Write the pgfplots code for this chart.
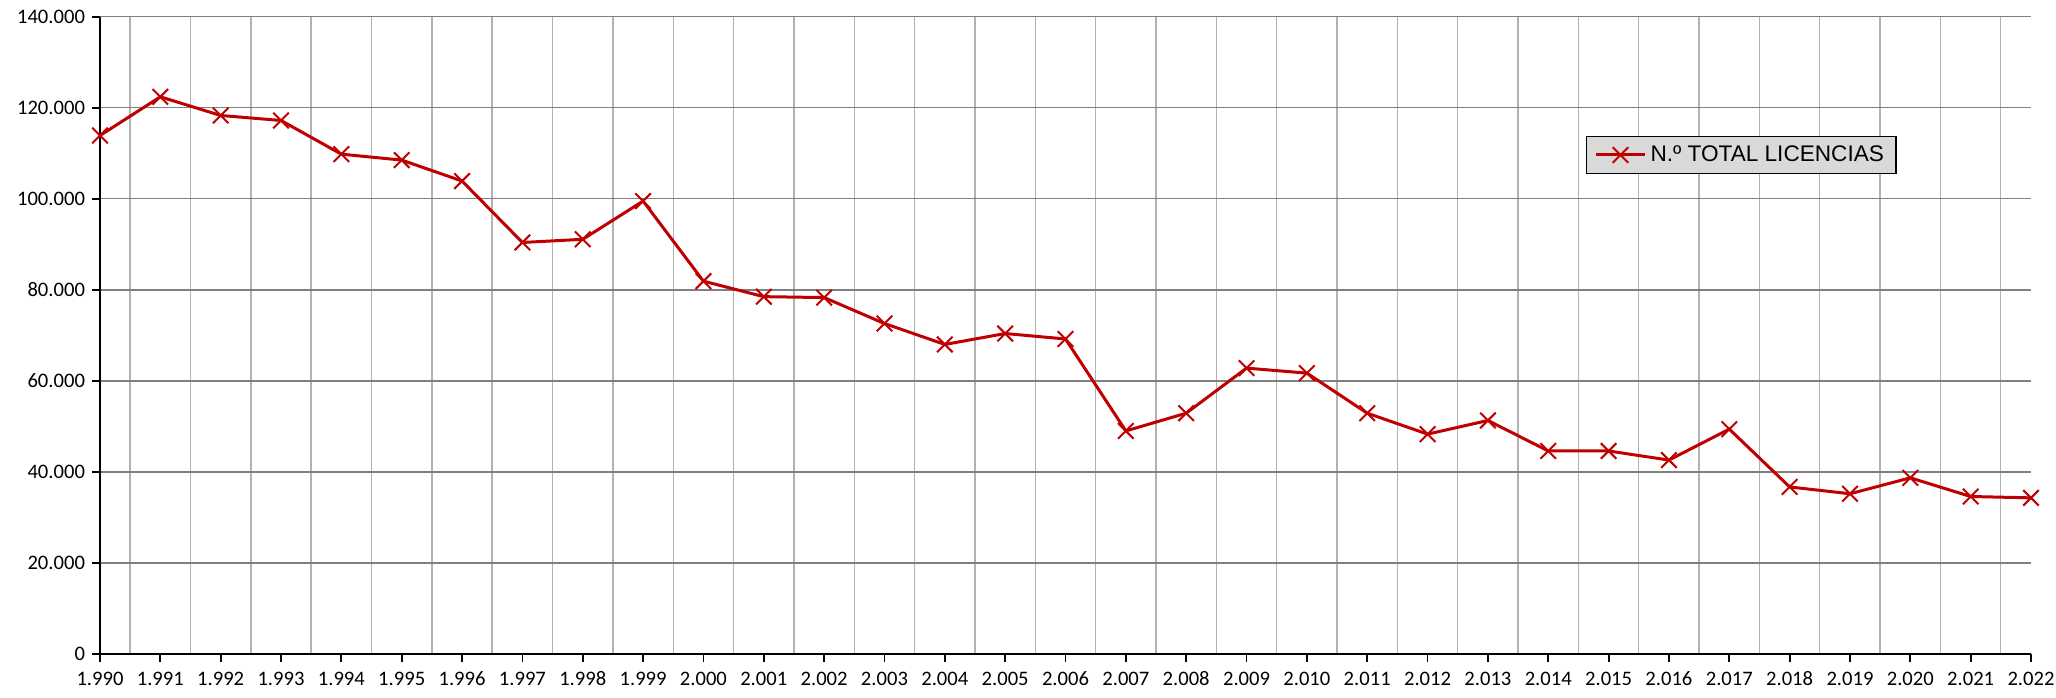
\documentclass[border=0pt]{standalone}
\usepackage{pgfplots}
\pgfplotsset{compat=1.18}
\usepackage{fontspec}
\setmainfont{Carlito}
\newfontfamily\legfont{Liberation Sans}
\definecolor{linered}{RGB}{192,0,0}
\begin{document}
\begin{tikzpicture}
\begin{axis}[
  at={(50pt,21.5pt)}, anchor=south west,
  width=965.5pt, height=318.65pt, scale only axis,
  xmin=1990, xmax=2022, ymin=0, ymax=140000,
  axis x line=bottom, axis y line=left,
  axis line style={-, black, line width=0.9pt},
  xtick={1990,1991,...,2022},
  ytick={0,20000,40000,60000,80000,100000,120000,140000},
  minor xtick={1990.5,1991.5,...,2021.5},
  ymajorgrids, xminorgrids,
  major grid style={color=black!50, line width=0.7pt},
  minor grid style={color=black!30, line width=0.7pt},
  tick align=outside,
  major tick length=4pt, minor tick length=0pt,
  tick style={black, line width=0.9pt},
  scaled x ticks=false, scaled y ticks=false,
  /pgf/number format/.cd, fixed, precision=0, 1000 sep={.}, assume math mode=true,
  /pgfplots/.cd,
  tick label style={font=\fontsize{10.3}{12}\selectfont},
  xticklabel style={anchor=north, text height=7.3pt, text depth=0pt, yshift=-1pt},
  legend style={at={(0.7695,0.8128)}, anchor=north west,
    fill=black!15, draw=black, line width=0.6pt,
    font=\legfont\fontsize{11.3}{13}\selectfont,
    inner xsep=4pt, inner ysep=2.5pt},
  legend cell align=left,
  legend image code/.code={%
    \draw[mark repeat=2, mark phase=2, #1] plot coordinates {(0pt,0pt) (12.25pt,0pt) (24.5pt,0pt)};},
]
\addplot[color=linered, line width=1.5pt, mark=x, mark size=5.5pt, mark options={line width=1pt}] coordinates {
(1990,113900) (1991,122400) (1992,118300) (1993,117200) (1994,109800)
(1995,108500) (1996,103900) (1997,90400) (1998,91100) (1999,99500)
(2000,81900) (2001,78500) (2002,78300) (2003,72600) (2004,68000)
(2005,70400) (2006,69200) (2007,49000) (2008,52900) (2009,62800)
(2010,61700) (2011,52900) (2012,48300) (2013,51300) (2014,44600)
(2015,44600) (2016,42600) (2017,49400) (2018,36700) (2019,35200)
(2020,38700) (2021,34600) (2022,34300)
};
\addlegendentry{N.º TOTAL LICENCIAS}
\end{axis}
\pgfresetboundingbox
\useasboundingbox (0,0) rectangle (1028pt,348.5pt);
\end{tikzpicture}
\end{document}
